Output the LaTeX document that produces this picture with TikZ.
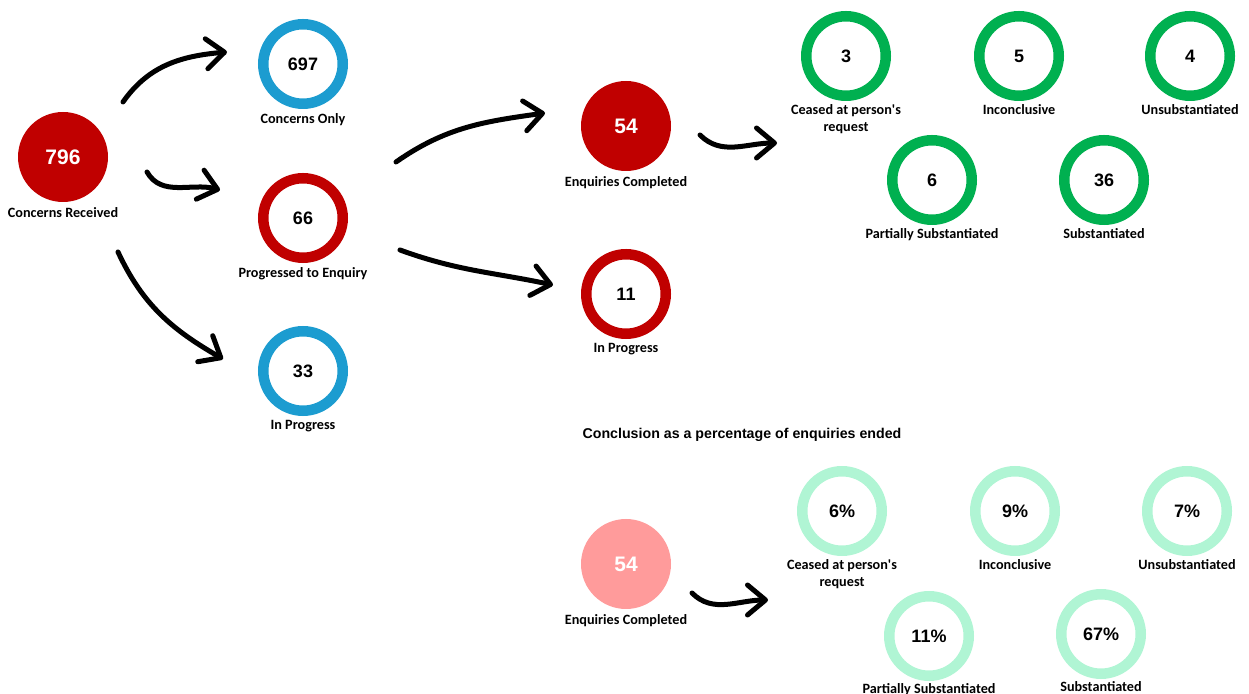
\documentclass[tikz,border=0pt]{standalone}
\usepackage{fontspec}
\setmainfont{Carlito}
\newfontfamily\numfont{Liberation Sans}
\usepackage{tikz}
\usetikzlibrary{positioning, arrows.meta}
\definecolor{mydarkred}{RGB}{192,0,0}
\definecolor{myblue}{RGB}{28,156,208}
\definecolor{mygreen}{RGB}{0,176,80}
\definecolor{mypink}{RGB}{255,155,155}
\definecolor{mymint}{RGB}{176,245,212}
\tikzset{
  disc/.style={circle,minimum size=90pt,inner sep=0,fill=#1,text=white,
    font=\numfont\bfseries\fontsize{21}{24}\selectfont},
  ring/.style={circle,minimum size=79.5pt,inner sep=0,draw=#1,line width=10.5pt,text=black,
    font=\numfont\bfseries\fontsize{18}{22}\selectfont},
  lbl/.style={font=\bfseries\fontsize{14.2}{17}\selectfont,align=center,inner sep=0},
  heading/.style={font=\numfont\bfseries\fontsize{14.2}{16}\selectfont,inner sep=0},
  flow/.style={line width=5pt,line cap=round,
    -{Straight Barb[length=18pt,width=30pt,line cap=round,line join=round]}}
}

\begin{document}
\begin{tikzpicture}[x=1pt, y=1pt]
  \useasboundingbox (0,0) rectangle (1249,693);

  % Concerns
  \node[disc=mydarkred] (rec) at (63,536) {796};
  \node[lbl, below=5pt of rec] (recl) {Concerns Received};
  \node[ring=myblue] (only) at (303,629) {697};
  \node[lbl, below=4pt of only] (onlyl) {Concerns Only};
  \node[ring=mydarkred] (prog) at (303,475) {66};
  \node[lbl, below=4pt of prog] (progl) {Progressed to Enquiry};
  \node[ring=myblue] (wait) at (303,322) {33};
  \node[lbl, below=4pt of wait] (waitl) {In Progress};

  % Enquiries
  \node[disc=mydarkred] (done) at (626,567) {54};
  \node[lbl, below=5pt of done] (donel) {Enquiries Completed};
  \node[ring=mydarkred] (open) at (626,399) {11};
  \node[lbl, below=4pt of open] (openl) {In Progress};

  % Outcomes (counts)
  \node[ring=mygreen] (ceased) at (846,637) {3};
  \node[lbl, below=3pt of ceased] (ceasedl) {Ceased at person\textquotesingle s\\request};
  \node[ring=mygreen] (incon) at (1019,637) {5};
  \node[lbl, below=3pt of incon] (inconl) {Inconclusive};
  \node[ring=mygreen] (unsub) at (1190,637) {4};
  \node[lbl, below=3pt of unsub] (unsubl) {Unsubstantiated};
  \node[ring=mygreen] (part) at (932,513) {6};
  \node[lbl, below=3pt of part] (partl) {Partially Substantiated};
  \node[ring=mygreen] (subst) at (1104,513) {36};
  \node[lbl, below=3pt of subst] (substl) {Substantiated};

  % Outcomes (percentages)
  \node[heading] (concl) at (742,258) {Conclusion as a percentage of enquiries ended};
  \node[disc=mypink] (done2) at (626,129) {54};
  \node[lbl, below=5pt of done2] (done2l) {Enquiries Completed};
  \node[ring=mymint] (pceased) at (842,182) {6\%};
  \node[lbl, below=3pt of pceased] (pceasedl) {Ceased at person\textquotesingle s\\request};
  \node[ring=mymint] (pincon) at (1015,182) {9\%};
  \node[lbl, below=3pt of pincon] (pinconl) {Inconclusive};
  \node[ring=mymint] (punsub) at (1187,182) {7\%};
  \node[lbl, below=3pt of punsub] (punsubl) {Unsubstantiated};
  \node[ring=mymint] (ppart) at (929,57) {11\%};
  \node[lbl, below=2pt of ppart] (ppartl) {Partially Substantiated};
  \node[ring=mymint] (psubst) at (1101,59) {67\%};
  \node[lbl, below=2pt of psubst] (psubstl) {Substantiated};

  % Arrows
  \coordinate (res) at (777,550);
  \coordinate (pres) at (768,93);
  \draw[flow] ([shift={(60,55)}]rec.center) to[out=55,in=185] ([shift={(-76,12)}]only.center);
  \draw[flow] ([shift={(84,-15)}]rec.center) to[out=-60,in=165] ([shift={(-83,28)}]prog.center);
  \draw[flow] ([shift={(55,-95)}]rec.center) to[out=-65,in=150] ([shift={(-80,12)}]wait.center);
  \draw[flow] ([shift={(93,56)}]prog.center) to[out=35,in=188] ([shift={(-81,13)}]done.center);
  \draw[flow] ([shift={(97,-32)}]prog.center) to[out=-20,in=168] ([shift={(-73,9)}]open.center);
  \draw[flow] ([shift={(74,-9)}]done.center) to[out=-45,in=180] (res);
  \draw[flow] ([shift={(66,-29)}]done2.center) to[out=-45,in=180] (pres);
\end{tikzpicture}
\end{document}
